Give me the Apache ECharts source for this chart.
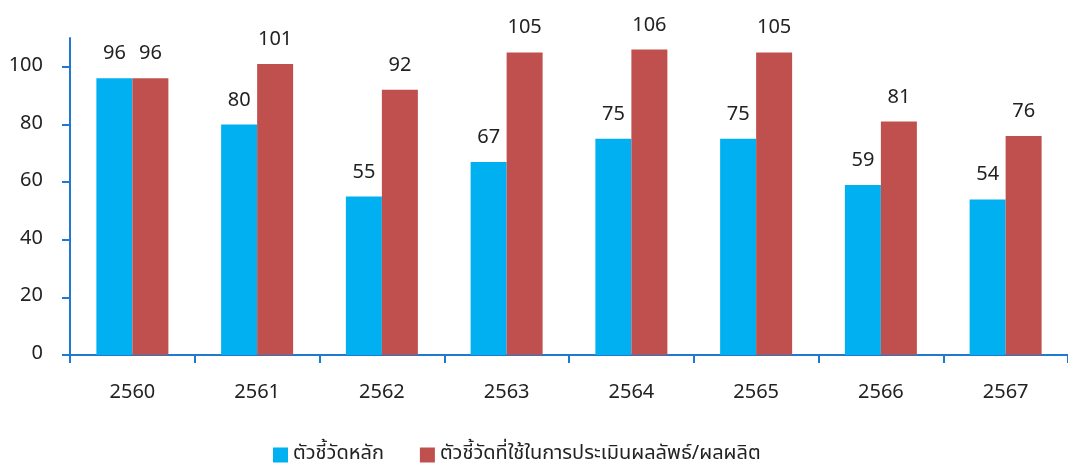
<!DOCTYPE html>
<html>
<head>
<meta charset="utf-8">
<style>
  html, body { margin: 0; padding: 0; background: #fff; }
  #chart { width: 1068px; height: 463px; }
</style>
<script src="https://cdn.jsdelivr.net/npm/echarts@6/dist/echarts.min.js"></script>
</head>
<body>
<div id="chart"></div>
<script>
// ปี พ.ศ.
const years = ['2560', '2561', '2562', '2563', '2564', '2565', '2566', '2567'];
const mainKpi = [96, 80, 55, 67, 75, 75, 59, 54];
const outcomeKpi = [96, 101, 92, 105, 106, 105, 81, 76];
const seriesNames = ['ตัวชี้วัดหลัก', 'ตัวชี้วัดที่ใช้ในการประเมินผลลัพธ์/ผลผลิต'];

const FONT = 'Tahoma, "Noto Sans Thai", "Noto Sans", "DejaVu Sans", sans-serif';
const AXIS_COLOR = '#1f78d1';

const chart = echarts.init(document.getElementById('chart'));

chart.setOption({
  animation: false,
  textStyle: { fontFamily: FONT, color: '#222' },
  color: ['#00b0f0', '#c0504d'],
  legend: {
    top: 440,
    left: 268,
    itemWidth: 15,
    itemHeight: 15,
    itemGap: 36,
    icon: 'rect',
    textStyle: { fontSize: 20, color: '#222', fontFamily: FONT },
    data: seriesNames,
  },
  grid: { left: 70, top: 38, width: 1006, height: 317 },
  xAxis: {
    type: 'category',
    data: years,
    axisLine: { lineStyle: { color: AXIS_COLOR, width: 2 } },
    axisTick: { show: true, length: 8, lineStyle: { color: AXIS_COLOR, width: 2 } },
    axisLabel: { fontSize: 20, color: '#222', margin: 29, fontFamily: FONT },
  },
  yAxis: {
    type: 'value',
    min: 0,
    max: 110,
    interval: 20,
    splitLine: { show: false },
    axisLine: { show: true, lineStyle: { color: AXIS_COLOR, width: 2 } },
    axisTick: { show: true, length: 8, lineStyle: { color: AXIS_COLOR, width: 2 } },
    axisLabel: { fontSize: 20, color: '#222', margin: 27, showMaxLabel: false, fontFamily: FONT },
  },
  series: [
    {
      name: seriesNames[0],
      type: 'bar',
      data: mainKpi,
      barWidth: 36,
      barGap: '0%',
      label: { show: true, position: 'top', distance: 13, fontSize: 20, color: '#222', fontFamily: FONT },
    },
    {
      name: seriesNames[1],
      type: 'bar',
      data: outcomeKpi,
      barWidth: 36,
      barGap: '0%',
      label: { show: true, position: 'top', distance: 13, fontSize: 20, color: '#222', fontFamily: FONT },
    },
  ],
});
</script>
</body>
</html>
